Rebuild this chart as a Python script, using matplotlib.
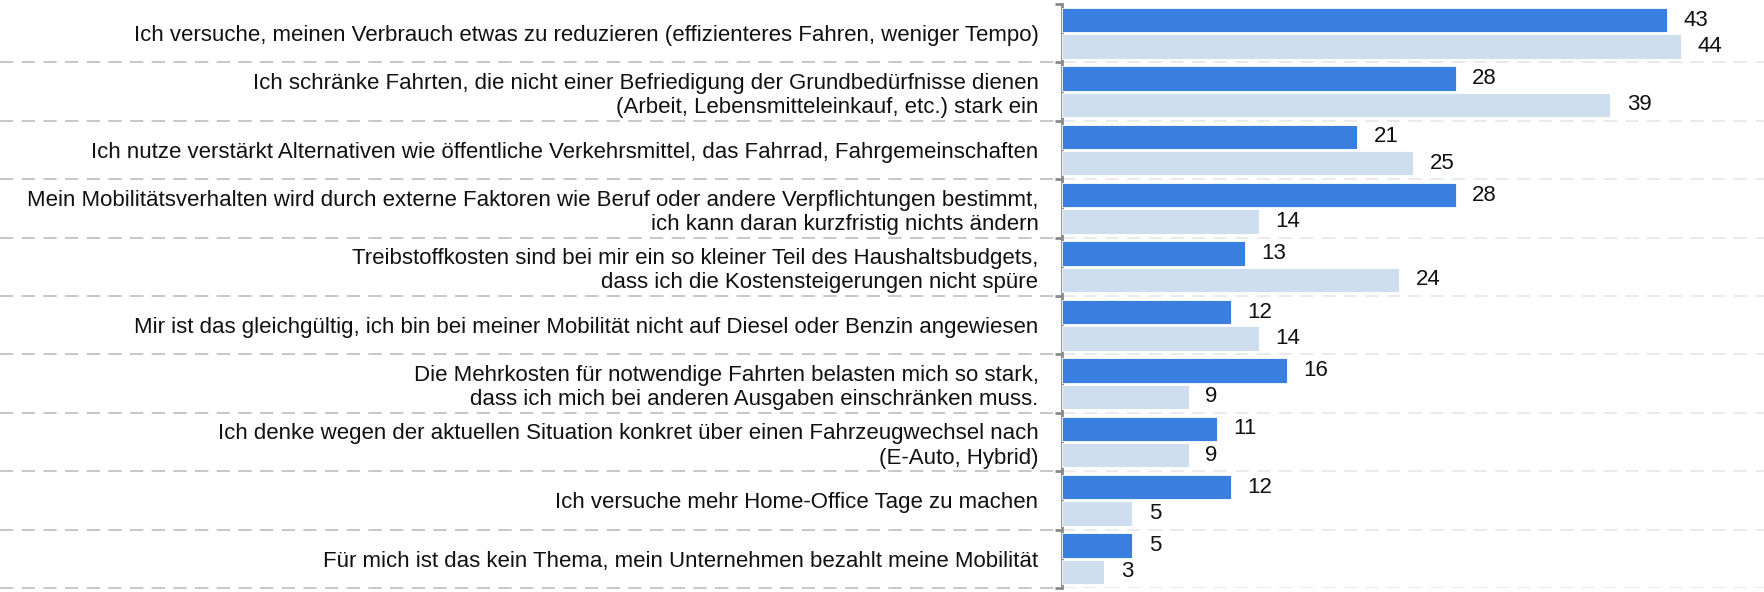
import numpy as np
import matplotlib.pyplot as plt

plt.rcParams['font.family'] = ['Liberation Sans', 'DejaVu Sans']

# Data
categories = [
    "Ich versuche, meinen Verbrauch etwas zu reduzieren (effizienteres Fahren, weniger Tempo)",
    "Ich schränke Fahrten, die nicht einer Befriedigung der Grundbedürfnisse dienen\n(Arbeit, Lebensmitteleinkauf, etc.) stark ein",
    "Ich nutze verstärkt Alternativen wie öffentliche Verkehrsmittel, das Fahrrad, Fahrgemeinschaften",
    "Mein Mobilitätsverhalten wird durch externe Faktoren wie Beruf oder andere Verpflichtungen bestimmt,\nich kann daran kurzfristig nichts ändern",
    "Treibstoffkosten sind bei mir ein so kleiner Teil des Haushaltsbudgets,\ndass ich die Kostensteigerungen nicht spüre",
    "Mir ist das gleichgültig, ich bin bei meiner Mobilität nicht auf Diesel oder Benzin angewiesen",
    "Die Mehrkosten für notwendige Fahrten belasten mich so stark,\ndass ich mich bei anderen Ausgaben einschränken muss.",
    "Ich denke wegen der aktuellen Situation konkret über einen Fahrzeugwechsel nach\n(E-Auto, Hybrid)",
    "Ich versuche mehr Home-Office Tage zu machen",
    "Für mich ist das kein Thema, mein Unternehmen bezahlt meine Mobilität",
]
series_a = [43, 28, 21, 28, 13, 12, 16, 11, 12, 5]
series_b = [44, 39, 25, 14, 24, 14, 9, 9, 5, 3]

W, H = 1765, 592
fig = plt.figure(figsize=(W / 100, H / 100), dpi=100)
ax_left = 1062
ax = fig.add_axes([ax_left / W, 4 / H, (W - ax_left) / W, 584 / H])

n = len(categories)
y = np.arange(n)
off = 0.226
bh = 0.42
fs = 16
ax.barh(y - off, series_a, height=bh, color='#3a7ee0', edgecolor='white', linewidth=0.6, zorder=3)
ax.barh(y + off, series_b, height=bh, color='#cfdeef', edgecolor='white', linewidth=0.6, zorder=3)

for yi, v in zip(y - off, series_a):
    ax.annotate(str(v), (v, yi), xytext=(12, 0), textcoords='offset points',
                va='center', ha='left', fontsize=fs, color='#111111')
for yi, v in zip(y + off, series_b):
    ax.annotate(str(v), (v, yi), xytext=(12, 0), textcoords='offset points',
                va='center', ha='left', fontsize=fs, color='#111111')

ax.set_xlim(0, 50)
ax.set_ylim(n - 0.5, -0.5)

# separators
bounds = np.arange(n) + 0.5
for b in bounds:
    ax.axhline(b, color='#e6e6e6', lw=1.2, ls=(0, (8, 5)), zorder=1)
    ax.plot([-ax_left / (W - ax_left), 0], [b, b], color='#bdbdbd', lw=1.2,
            ls=(0, (8, 5)), transform=ax.get_yaxis_transform(), clip_on=False)

ax.set_yticks(y)
ax.set_yticklabels(categories, fontsize=fs, color='#111111')
ax.tick_params(axis='y', which='major', length=0, pad=17)
ax.set_yticks(np.arange(n + 1) - 0.5, minor=True)
ax.tick_params(axis='y', which='minor', length=5, width=2, color='#8a8a8a')
ax.set_xticks([])

for s in ['top', 'right', 'bottom']:
    ax.spines[s].set_visible(False)
ax.spines['left'].set_color('#8a8a8a')
ax.spines['left'].set_linewidth(2)

plt.savefig('out.png', dpi=100)
